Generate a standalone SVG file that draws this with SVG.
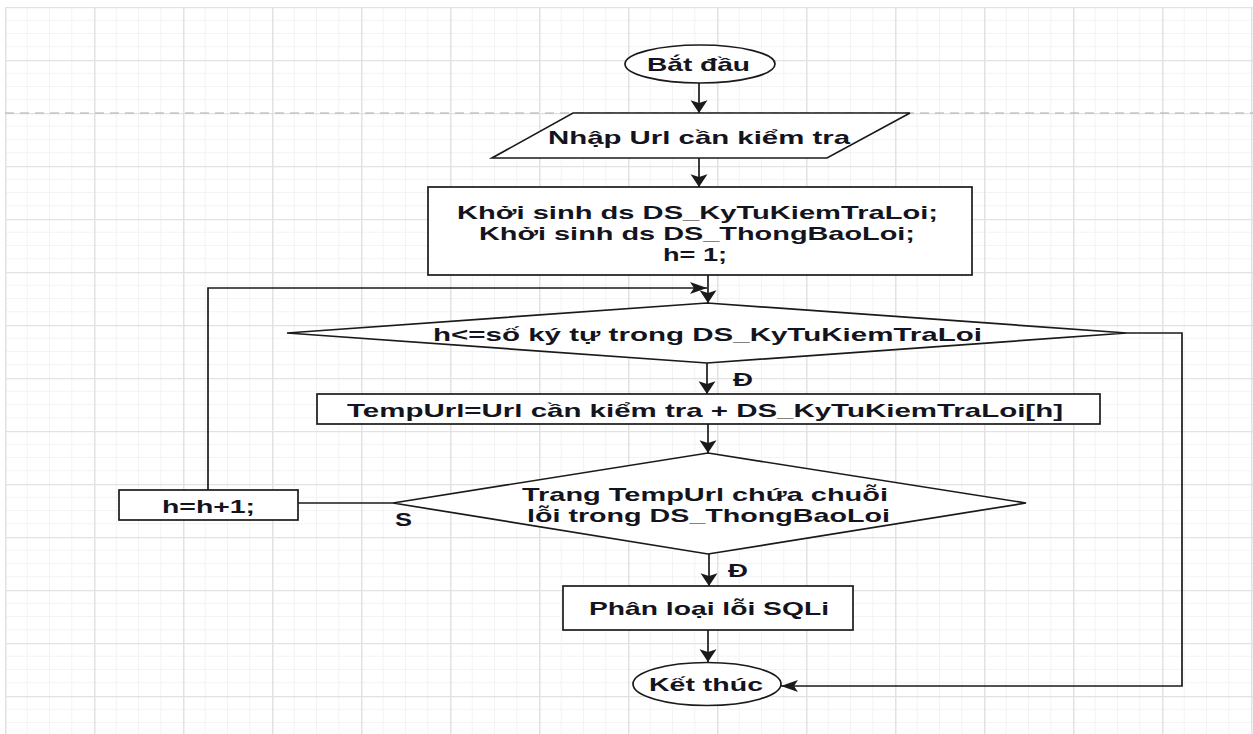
<svg xmlns="http://www.w3.org/2000/svg" width="1253" height="734" viewBox="0 0 1253 734">
  <defs>
    <style>
      .shape { fill: #ffffff; stroke: #1a1a1a; stroke-width: 1.7; }
      .edge { fill: none; stroke: #1a1a1a; stroke-width: 1.7; }
      .lbl { font-family: "Liberation Sans", Arial, sans-serif; font-size: 18.5px; font-weight: bold; fill: #141420; }
    </style>
    <pattern id="grid" x="5" y="7" width="89" height="53" patternUnits="userSpaceOnUse">
      <path d="M22.25 0V53M44.5 0V53M66.75 0V53M0 13.25H89M0 26.5H89M0 39.75H89" stroke="#f3f3f3" stroke-width="1"/>
      <path d="M0.75 0V53M0 0.5H89" stroke="#e2e2e2" stroke-width="1.5"/>
    </pattern>
    <!-- vertical flow arrowhead -->
    <marker id="arrV" markerUnits="userSpaceOnUse" markerWidth="14" markerHeight="18" refX="12" refY="0" viewBox="0 -8.5 13 17" orient="auto" overflow="visible">
      <path d="M0 -8L12 0L0 8L2.5 0Z" fill="#1a1a1a"/>
    </marker>
    <!-- horizontal flow arrowhead -->
    <marker id="arrH" markerUnits="userSpaceOnUse" markerWidth="19" markerHeight="13" refX="17" refY="0" viewBox="0 -6.5 18 13" orient="auto" overflow="visible">
      <path d="M0 -6L17 0L0 6L4 0Z" fill="#1a1a1a"/>
    </marker>
  </defs>

  <!-- canvas background and grid -->
  <rect width="1253" height="734" fill="#ffffff"/>
  <rect x="5" y="7" width="1248" height="727" fill="url(#grid)"/>
  <line x1="5" y1="113" x2="1253" y2="113" stroke="#ababab" stroke-width="1" stroke-dasharray="9 6"/>

  <!-- connectors -->
  <g id="connectors">
    <path class="edge" d="M699 83V113" marker-end="url(#arrV)"/>
    <path class="edge" d="M699 158V187" marker-end="url(#arrV)"/>
    <path class="edge" d="M708 275V303" marker-end="url(#arrV)"/>
    <path class="edge" d="M707 363V394" marker-end="url(#arrV)"/>
    <path class="edge" d="M708 424V453" marker-end="url(#arrV)"/>
    <path class="edge" d="M709 554V586" marker-end="url(#arrV)"/>
    <path class="edge" d="M708 630V662" marker-end="url(#arrV)"/>
    <path class="edge" d="M393 503H298"/>
    <path class="edge" d="M208 490V288H707" marker-end="url(#arrH)"/>
    <path class="edge" d="M1127 333H1182V686H781" marker-end="url(#arrH)"/>
    <text class="lbl" x="733" y="386" textLength="20" lengthAdjust="spacingAndGlyphs">Đ</text>
    <text class="lbl" x="395" y="526" textLength="17" lengthAdjust="spacingAndGlyphs">S</text>
    <text class="lbl" x="728" y="577" textLength="20" lengthAdjust="spacingAndGlyphs">Đ</text>
  </g>

  <g id="start">
    <ellipse class="shape" cx="700" cy="64" rx="75" ry="19"/>
    <text class="lbl" x="647" y="70.5" textLength="103" lengthAdjust="spacingAndGlyphs">Bắt đầu</text>
  </g>

  <g id="input-url">
    <path class="shape" d="M573 113H910L827 158H492Z"/>
    <text class="lbl" x="548" y="143.5" textLength="302" lengthAdjust="spacingAndGlyphs">Nhập Url cần kiểm tra</text>
  </g>

  <g id="init">
    <rect class="shape" x="428" y="187" width="544" height="88"/>
    <text class="lbl" x="457" y="218.5" textLength="481" lengthAdjust="spacingAndGlyphs">Khởi sinh ds DS_KyTuKiemTraLoi;</text>
    <text class="lbl" x="479" y="239.5" textLength="436" lengthAdjust="spacingAndGlyphs">Khởi sinh ds DS_ThongBaoLoi;</text>
    <text class="lbl" x="663" y="260.5" textLength="64" lengthAdjust="spacingAndGlyphs">h= 1;</text>
  </g>

  <g id="check-h">
    <path class="shape" d="M707 303L1127 333L707 363L287 333Z"/>
    <text class="lbl" x="433" y="340.5" textLength="549" lengthAdjust="spacingAndGlyphs">h&lt;=số ký tự trong DS_KyTuKiemTraLoi</text>
  </g>

  <g id="temp-url">
    <rect class="shape" x="317" y="394" width="783" height="30"/>
    <text class="lbl" x="347" y="416.5" textLength="716" lengthAdjust="spacingAndGlyphs">TempUrl=Url cần kiểm tra + DS_KyTuKiemTraLoi[h]</text>
  </g>

  <g id="check-error">
    <path class="shape" d="M708 453L1026 503L708 554L393 503Z"/>
    <text class="lbl" x="522" y="500.5" textLength="366" lengthAdjust="spacingAndGlyphs">Trang TempUrl chứa chuỗi</text>
    <text class="lbl" x="527" y="521.5" textLength="363" lengthAdjust="spacingAndGlyphs">lỗi trong DS_ThongBaoLoi</text>
  </g>

  <g id="increment">
    <rect class="shape" x="119" y="490" width="179" height="30"/>
    <text class="lbl" x="162" y="512.5" textLength="93" lengthAdjust="spacingAndGlyphs">h=h+1;</text>
  </g>

  <g id="classify">
    <rect class="shape" x="563" y="586" width="290" height="44"/>
    <text class="lbl" x="589" y="614.5" textLength="240" lengthAdjust="spacingAndGlyphs">Phân loại lỗi SQLi</text>
  </g>

  <g id="end">
    <ellipse class="shape" cx="707" cy="684" rx="74" ry="21.5"/>
    <text class="lbl" x="649" y="690.5" textLength="114" lengthAdjust="spacingAndGlyphs">Kết thúc</text>
  </g>
</svg>
